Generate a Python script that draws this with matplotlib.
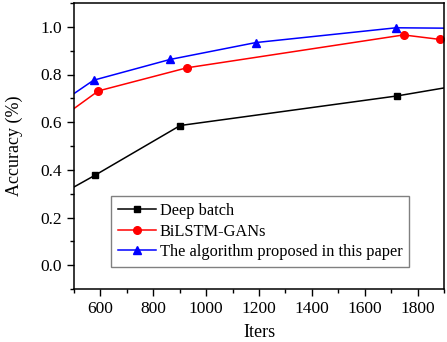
import matplotlib.pyplot as plt
from matplotlib.ticker import MultipleLocator

plt.rcParams['font.family'] = ['Liberation Serif', 'DejaVu Serif']

# data (points just outside the x range keep the clipped line ends)
deep_x = [450, 579, 902, 1722, 1950]
deep_y = [0.297, 0.377, 0.586, 0.710, 0.753]
bilstm_x = [450, 592, 927, 1747, 1886]
bilstm_y = [0.617, 0.731, 0.828, 0.966, 0.947]
ours_x = [450, 574, 863, 1188, 1719, 1950]
ours_y = [0.682, 0.776, 0.863, 0.934, 0.996, 0.994]

fig = plt.figure(figsize=(4.47, 3.42), dpi=100)
ax = fig.add_axes([74 / 447, 1 - 289 / 342, 370 / 447, 286 / 342])

ax.plot(deep_x, deep_y, color='black', marker='s', markersize=4.5, lw=1.1,
        label='Deep batch')
ax.plot(bilstm_x, bilstm_y, color='red', marker='o', markersize=5.5, lw=1.1,
        label='BiLSTM-GANs')
ax.plot(ours_x, ours_y, color='blue', marker='^', markersize=5.5, lw=1.1,
        label='The algorithm proposed in this paper')

ax.set_xlim(500, 1900)
ax.set_ylim(-0.1, 1.1)
ax.xaxis.set_minor_locator(MultipleLocator(100))
ax.yaxis.set_minor_locator(MultipleLocator(0.1))
ax.set_xticks([600, 800, 1000, 1200, 1400, 1600, 1800])
ax.set_yticks([0.0, 0.2, 0.4, 0.6, 0.8, 1.0])
ax.yaxis.set_major_formatter(plt.FormatStrFormatter('%.1f'))
ax.tick_params(which='major', direction='out', length=5, width=1, labelsize=12.5)
ax.tick_params(which='minor', direction='out', length=3, width=1)
for s in ax.spines.values():
    s.set_linewidth(1.1)

ax.set_xlabel('Iters', fontsize=13, labelpad=5.5)
ax.set_ylabel('Accuracy (%)', fontsize=13, labelpad=13)

leg = ax.legend(loc='lower left', bbox_to_anchor=(0.1, 0.077), fontsize=11.8,
                fancybox=False, edgecolor='gray', framealpha=1,
                borderaxespad=0, handlelength=2.3, borderpad=0.42,
                labelspacing=0.28, handletextpad=0.25)
leg.get_frame().set_linewidth(1)

fig.savefig('out.png', dpi=100)
